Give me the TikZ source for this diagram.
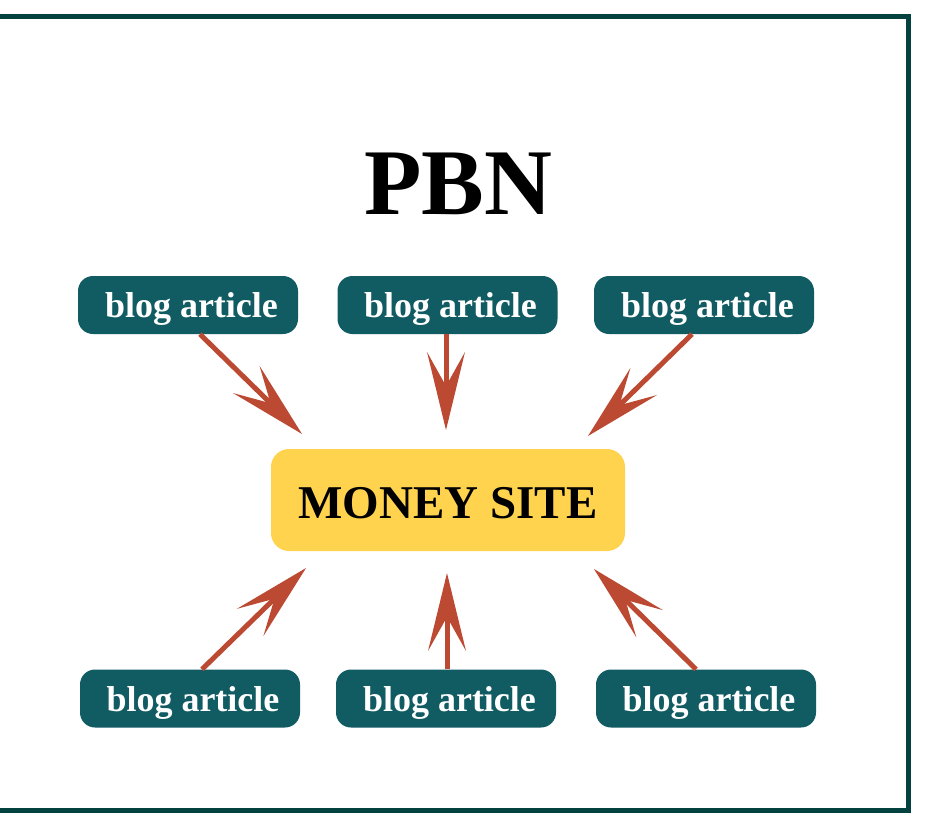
\documentclass[tikz,border=0pt]{standalone}
\usepackage{fontspec}
\setmainfont{Liberation Serif}
\usetikzlibrary{arrows.meta}
\usetikzlibrary{positioning}

\definecolor{frame}{HTML}{03423F}
\definecolor{teal}{HTML}{115B63}
\definecolor{gold}{HTML}{FFD34E}
\definecolor{rust}{HTML}{BC4A33}

\tikzset{
  blog/.style={fill=teal, text=white, rounded corners=15pt,
    minimum width=220pt, minimum height=58pt, inner sep=0pt,
    text depth=0pt,
    font=\fontsize{36}{40}\selectfont\bfseries},
  money/.style={fill=gold, text=black, rounded corners=18pt,
    minimum width=354pt, minimum height=102pt, inner sep=0pt,
    text height=36pt, text depth=0pt,
    font=\fontsize{47}{52}\selectfont\bfseries},
  link/.style={draw=rust, line width=5pt,
    -{Stealth[length=78pt, width=38pt, inset=34pt, line width=0pt]}},
}

\begin{document}
\begin{tikzpicture}[x=1pt, y=-1pt]
\useasboundingbox (0, 0) rectangle (925, 819);
\draw [frame, line width=5pt] (-10, 16.5) rectangle (908.5, 810.5);

\node (title) at (458, 184) {\fontsize{94}{100}\selectfont\bfseries PBN};

\node [money] (site) at (448, 500) {MONEY SITE};

\node [blog] (tl) at (188, 305) {\hspace{7pt}blog article};
\node [blog] (tm) at (447.5, 305) {\hspace{6pt}blog article};
\node [blog] (tr) at (704, 305) {\hspace{7pt}blog article};
\node [blog] (bl) at (190, 698.5) {\hspace{6pt}blog article};
\node [blog] (bm) at (446, 698.5) {\hspace{7pt}blog article};
\node [blog] (br) at (706, 698.5) {\hspace{6pt}blog article};

% arrow tips stop short of the money site
\coordinate (tl-tip) at (302, 434);
\coordinate (tm-tip) at (446, 430);
\coordinate (tr-tip) at (588, 436);
\coordinate (bl-tip) at (306, 568);
\coordinate (bm-tip) at (447, 573);
\coordinate (br-tip) at (594, 569);

\draw [link] ([xshift=12pt]tl.south) -- (tl-tip);
\draw [link] ([xshift=-1.5pt]tm.south) -- (tm-tip);
\draw [link] ([xshift=-12pt]tr.south) -- (tr-tip);
\draw [link] ([xshift=12pt]bl.north) -- (bl-tip);
\draw [link] ([xshift=1pt]bm.north) -- (bm-tip);
\draw [link] ([xshift=-10pt]br.north) -- (br-tip);
\end{tikzpicture}
\end{document}
